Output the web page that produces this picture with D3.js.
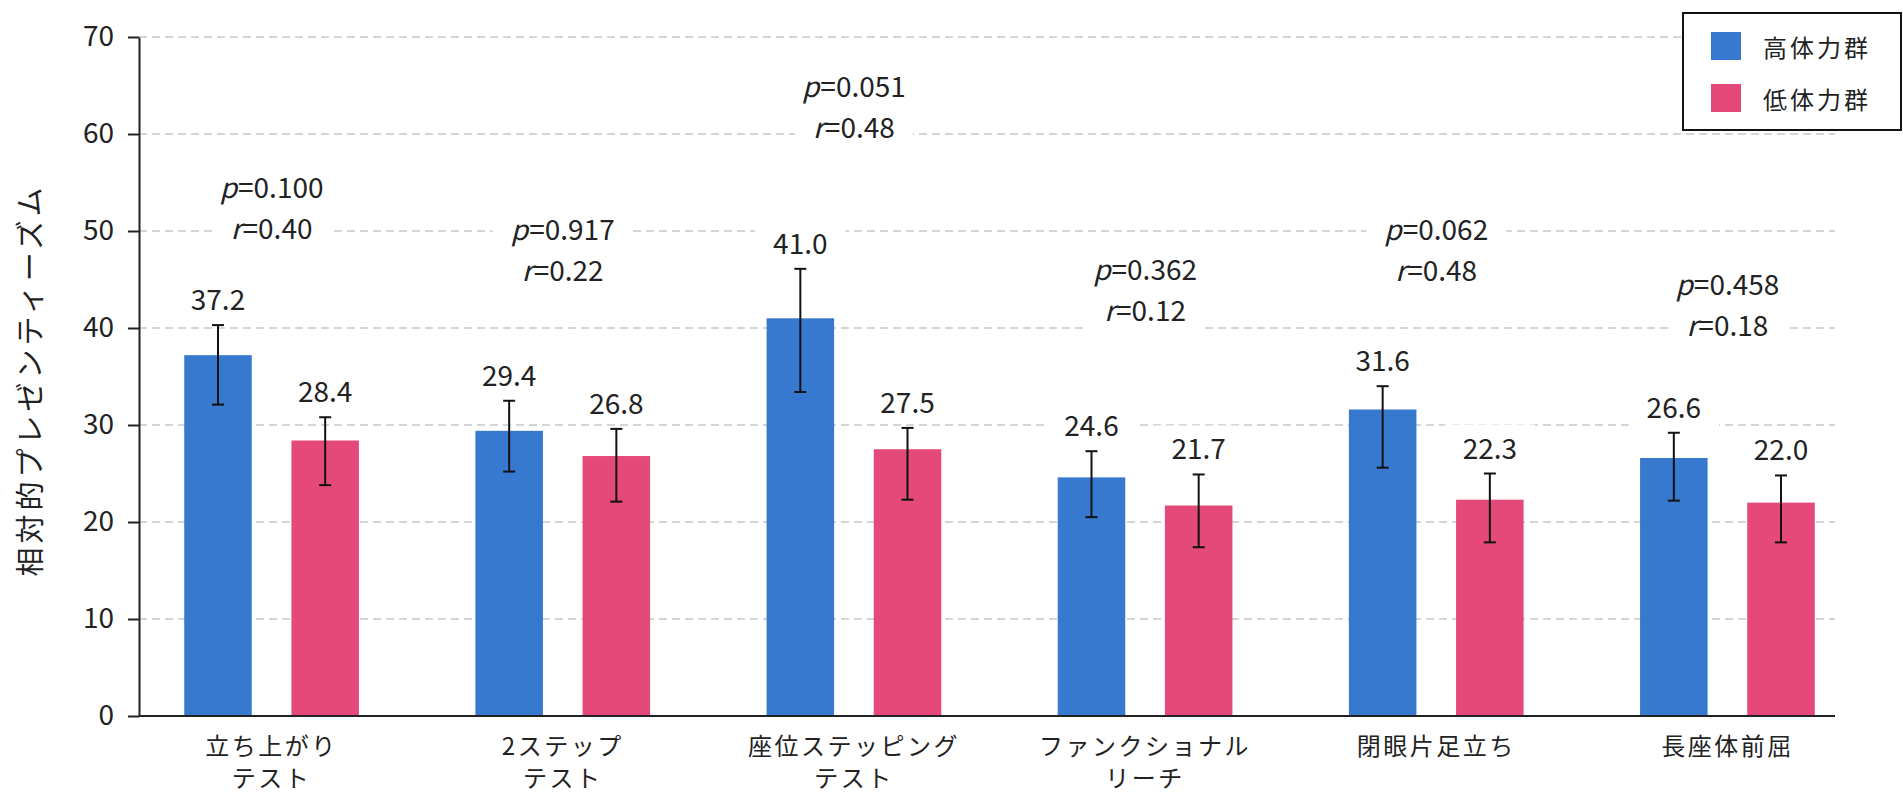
<!DOCTYPE html>
<html>
<head>
<meta charset="utf-8">
<script src="https://cdn.jsdelivr.net/npm/d3@7"></script>
<style>
  body { margin: 0; background: #fff; }
  text { font-family: 'Noto Sans CJK JP', 'Noto Sans', sans-serif; fill: #222; }
</style>
</head>
<body>
<div id="chart"></div>
<script>
const categories = ['立ち上がり\nテスト', '2ステップ\nテスト', '座位ステッピング\nテスト', 'ファンクショナル\nリーチ', '閉眼片足立ち', '長座体前屈'];
const seriesNames = ['高体力群', '低体力群'];
const highValues = [37.2, 29.4, 41.0, 24.6, 31.6, 26.6];
const lowValues  = [28.4, 26.8, 27.5, 21.7, 22.3, 22.0];
const highUpper = [40.3, 32.5, 46.1, 27.3, 34.0, 29.2];
const highLower = [32.1, 25.2, 33.4, 20.5, 25.6, 22.2];
const lowUpper  = [30.8, 29.6, 29.7, 24.9, 25.0, 24.8];
const lowLower  = [23.8, 22.1, 22.3, 17.4, 17.9, 17.9];
const pValues = ['0.100', '0.917', '0.051', '0.362', '0.062', '0.458'];
const rValues = ['0.40', '0.22', '0.48', '0.12', '0.48', '0.18'];
const annotationLevel = [53.4, 49.1, 63.8, 44.9, 49.1, 43.4];
const yTicks = [0, 10, 20, 30, 40, 50, 60, 70];
const colors = ['#3779cf', '#e5497a'];

const margin = { top: 37, right: 68, bottom: 79, left: 139 };
const width = 1903 - margin.left - margin.right;
const height = 795 - margin.top - margin.bottom;

// rows: one per category, bars: one per series
const rows = categories.map((c, i) => ({
  cat: c,
  bars: [
    { s: 0, v: highValues[i], hi: highUpper[i], lo: highLower[i] },
    { s: 1, v: lowValues[i],  hi: lowUpper[i],  lo: lowLower[i] }
  ],
  p: pValues[i], r: rValues[i], level: annotationLevel[i]
}));

const x0 = d3.scaleBand()
  .domain(categories)
  .range([-13, width + 38])
  .paddingInner(0.4)
  .paddingOuter(0.2);

const x1 = d3.scaleBand()
  .domain([0, 1])
  .range([0, x0.bandwidth()])
  .paddingInner(0.37);

const y = d3.scaleLinear()
  .domain([0, 70])
  .range([height, 0]);

const svg = d3.select('#chart')
  .append('svg')
    .attr('width', width + margin.left + margin.right)
    .attr('height', height + margin.top + margin.bottom)
  .append('g')
    .attr('transform', 'translate(' + margin.left + ',' + margin.top + ')');

// grid
svg.append('g')
  .selectAll('line')
  .data(yTicks.filter(d => d > 0))
  .join('line')
    .attr('x1', 0).attr('x2', width)
    .attr('y1', d => y(d)).attr('y2', d => y(d))
    .attr('stroke', '#c8c8c8')
    .attr('stroke-width', 1.5)
    .attr('stroke-dasharray', '8,5');

// bars
const group = svg.append('g')
  .selectAll('g')
  .data(rows)
  .join('g')
    .attr('transform', d => 'translate(' + x0(d.cat) + ',0)');

group.selectAll('rect')
  .data(d => d.bars)
  .join('rect')
    .attr('x', d => x1(d.s))
    .attr('y', d => y(d.v))
    .attr('width', x1.bandwidth())
    .attr('height', d => y(0) - y(d.v))
    .attr('fill', d => colors[d.s]);

// error bars
const err = group.selectAll('g.err')
  .data(d => d.bars)
  .join('g')
    .attr('class', 'err')
    .attr('stroke', '#111')
    .attr('stroke-width', 2);

const cx = d => x1(d.s) + x1.bandwidth() / 2;
err.append('line')
  .attr('x1', cx).attr('x2', cx)
  .attr('y1', d => y(d.hi)).attr('y2', d => y(d.lo));
err.append('line')
  .attr('x1', d => cx(d) - 6).attr('x2', d => cx(d) + 6)
  .attr('y1', d => y(d.hi)).attr('y2', d => y(d.hi));
err.append('line')
  .attr('x1', d => cx(d) - 6).attr('x2', d => cx(d) + 6)
  .attr('y1', d => y(d.lo)).attr('y2', d => y(d.lo));

// white box behind a text so the grid breaks around it
function backdrop(sel, padX, padY) {
  sel.each(function() {
    const b = this.getBBox();
    d3.select(this.parentNode).insert('rect', () => this)
      .attr('x', b.x - padX).attr('y', b.y - padY)
      .attr('width', b.width + 2 * padX).attr('height', b.height + 2 * padY)
      .attr('fill', '#fff');
  });
}

// value labels
const valLabels = group.selectAll('g.val')
  .data(d => d.bars)
  .join('g')
    .attr('class', 'val');
valLabels.append('text')
  .attr('x', cx)
  .attr('y', d => y(d.hi) - 15)
  .attr('text-anchor', 'middle')
  .attr('font-size', 28)
  .text(d => d3.format('.1f')(d.v))
  .call(backdrop, 18, 2);

// p / r annotations
const ann = group.append('g');
const pText = ann.append('text')
  .attr('x', x0.bandwidth() / 2)
  .attr('y', d => y(d.level))
  .attr('text-anchor', 'middle')
  .attr('font-size', 28);
pText.append('tspan').attr('font-style', 'italic').text('p');
pText.append('tspan').attr('dx', 1).text(d => '=' + d.p);
const rText = ann.append('text')
  .attr('x', x0.bandwidth() / 2)
  .attr('y', d => y(d.level) + 41)
  .attr('text-anchor', 'middle')
  .attr('font-size', 28);
rText.append('tspan').attr('font-style', 'italic').text('r');
rText.append('tspan').attr('dx', 1).text(d => '=' + d.r);
pText.call(backdrop, 18, 2);
rText.call(backdrop, 18, 2);

// y axis
const yAxis = d3.axisLeft(y)
  .tickValues(yTicks)
  .tickSize(11)
  .tickSizeOuter(0)
  .tickPadding(14);

svg.append('g')
  .call(yAxis)
  .call(g => g.select('.domain').attr('stroke', '#222').attr('stroke-width', 2))
  .call(g => g.selectAll('.tick line').attr('stroke', '#222').attr('stroke-width', 2))
  .call(g => g.selectAll('.tick text')
    .attr('font-size', 28)
    .attr('font-family', null)
    .attr('fill', '#222'));

// x axis
svg.append('line')
  .attr('x1', 0).attr('x2', width)
  .attr('y1', y(0)).attr('y2', y(0))
  .attr('stroke', '#222')
  .attr('stroke-width', 2);

const xLabels = svg.append('g')
  .selectAll('text')
  .data(categories)
  .join('text')
    .attr('x', d => x0(d) + x0.bandwidth() / 2)
    .attr('y', y(0) + 39)
    .attr('text-anchor', 'middle')
    .attr('font-size', 24)
    .attr('letter-spacing', 2.5);
xLabels.selectAll('tspan')
  .data(d => d.split('\n'))
  .join('tspan')
    .attr('x', function() { return d3.select(this.parentNode).attr('x'); })
    .attr('dy', (d, i) => i ? 32 : 0)
    .text(d => d);

// y title
svg.append('text')
  .attr('transform', 'translate(' + (31 - margin.left + 10) + ',' + (380 - margin.top) + ') rotate(-90)')
  .attr('text-anchor', 'middle')
  .attr('font-size', 29)
  .attr('letter-spacing', 4)
  .text('相対的プレゼンティーズム');

// legend
const legend = svg.append('g')
  .attr('transform', 'translate(' + (1683 - margin.left) + ',' + (13 - margin.top) + ')');
legend.append('rect')
  .attr('width', 218).attr('height', 117)
  .attr('fill', '#fff')
  .attr('stroke', '#111')
  .attr('stroke-width', 2);
const item = legend.selectAll('g')
  .data(seriesNames)
  .join('g')
    .attr('transform', (d, i) => 'translate(28,' + (19 + i * 52) + ')');
item.append('rect')
  .attr('width', 30).attr('height', 28)
  .attr('fill', (d, i) => colors[i]);
item.append('text')
  .attr('x', 52).attr('y', 14)
  .attr('dominant-baseline', 'central')
  .attr('font-size', 24)
  .attr('letter-spacing', 3)
  .text(d => d);
</script>
</body>
</html>
